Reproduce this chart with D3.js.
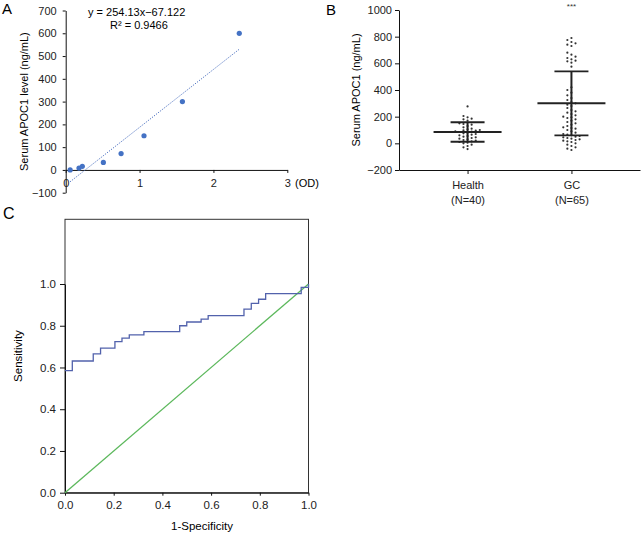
<!DOCTYPE html>
<html>
<head>
<meta charset="utf-8">
<script src="https://cdn.jsdelivr.net/npm/d3@7"></script>
<style>
  body { margin: 0; background: #fff; }
  svg { font-family: "Liberation Sans", Arial, Helvetica, sans-serif; }
  .axis path, .axis line { stroke: #111; }
  .axis text { fill: #222; }
</style>
</head>
<body>
<script>
// ---- panel A: standard curve ----
var odValues = [0.06, 0.18, 0.225, 0.51, 0.75, 1.06, 1.58, 2.35];
var concValues = [0, 8, 16, 33, 72, 150, 300, 600];
var fitSlope = 254.13, fitIntercept = -67.122;
var aTicksY = [-100, 0, 100, 200, 300, 400, 500, 600, 700];
var aTicksX = [0, 1, 2, 3];

// ---- panel B: scatter with mean +/- SD ----
var groups = ["Health", "GC"];
var groupN = ["(N=40)", "(N=65)"];
var groupMean = [85, 300];
var groupSD = [73, 240];
var healthVals = [277, 205, 195, 185, 180, 170, 150, 145, 140, 130,
                  120, 110, 105, 100, 98, 95, 90, 88, 85, 80,
                  75, 70, 65, 60, 55, 50, 45, 40, 35, 30,
                  25, 20, 15, 10, 5, 0, -10, -20, -30, -43];
var gcVals = [790, 775, 760, 750, 740, 730,
              680, 665, 650, 640, 630, 620, 615, 605, 575,
              420, 400, 380, 360, 340, 325, 310, 300, 290, 280,
              265, 250, 240, 230, 220, 210, 200, 195, 190, 180,
              170, 160, 150, 140, 130, 120, 115, 110, 100, 90,
              80, 70, 65, 60, 55, 50, 45, 40, 35, 30,
              25, 20, 15, 10, 0, -10, -20, -30, -40, -50];
var bTicksY = [-200, 0, 200, 400, 600, 800, 1000];

// ---- panel C: ROC curve ----
var rocFpr = [0, 0.030, 0.116, 0.146, 0.205, 0.234, 0.264, 0.324, 0.471, 0.500,
              0.559, 0.588, 0.735, 0.765, 0.795, 0.824, 0.970, 1.0];
var rocTpr = [0.585, 0.631, 0.665, 0.693, 0.724, 0.741, 0.756, 0.772, 0.800, 0.818,
              0.832, 0.848, 0.880, 0.907, 0.927, 0.954, 0.984, 1.0];
var cTicks = [0, 0.2, 0.4, 0.6, 0.8, 1.0];

var W = 642, H = 534;
var svg = d3.select("body").append("svg")
    .attr("width", W)
    .attr("height", H);

/* PANEL A */
var xA = d3.scaleLinear().domain([0, 3]).range([65.7, 287.3]);
var yA = d3.scaleLinear().domain([-100, 700]).range([192.7, 10.5]);
var gA = svg.append("g").style("font-size", "11px");

gA.append("g")
    .attr("class", "axis")
    .attr("transform", "translate(" + xA(0) + ",0)")
    .call(d3.axisLeft(yA).tickValues(aTicksY).tickFormat(d3.format("d")).tickSize(3).tickPadding(6).tickSizeOuter(0));

gA.append("g")
    .attr("class", "axis")
    .attr("transform", "translate(0," + yA(0) + ")")
    .call(d3.axisBottom(xA).tickValues(aTicksX).tickFormat(d3.format("d")).tickSize(3).tickPadding(6).tickSizeOuter(0));

gA.selectAll(".axis").attr("font-family", null).attr("font-size", null);

// trendline (dotted)
var fitX = d3.extent(odValues);
gA.append("line")
    .attr("x1", xA(fitX[0]))
    .attr("y1", yA(fitSlope * fitX[0] + fitIntercept))
    .attr("x2", xA(fitX[1]))
    .attr("y2", yA(fitSlope * fitX[1] + fitIntercept))
    .attr("stroke", "#4a6fc0")
    .attr("stroke-width", 1)
    .attr("stroke-dasharray", "1.2,1.4");

gA.selectAll("circle.pt")
    .data(odValues)
    .enter().append("circle")
    .attr("class", "pt")
    .attr("cx", function(d) { return xA(d); })
    .attr("cy", function(d, i) { return yA(concValues[i]); })
    .attr("r", 2.6)
    .attr("fill", "#4472c4");

gA.append("text").attr("x", 88).attr("y", 15.5)
    .text("y = 254.13x\u221267.122");
gA.append("text").attr("x", 110).attr("y", 29)
    .text("R\u00b2 = 0.9466");
gA.append("text").attr("x", 295).attr("y", 187)
    .text("(OD)");
gA.append("text")
    .attr("transform", "translate(28," + yA(300) + ") rotate(-90)")
    .attr("text-anchor", "middle")
    .text("Serum APOC1 level (ng/mL)");
gA.append("text").attr("x", 2).attr("y", 14).style("font-size", "15px").text("A");

/* PANEL B */
var xB = d3.scalePoint().domain(groups).range([399, 640]).padding(0.66);
var yB = d3.scaleLinear().domain([-200, 1000]).range([170, 10]);
var gB = svg.append("g").style("font-size", "11px");

gB.append("g")
    .attr("class", "axis")
    .attr("transform", "translate(399,0)")
    .call(d3.axisLeft(yB).tickValues(bTicksY).tickFormat(d3.format("d")).tickSize(4).tickPadding(3).tickSizeOuter(0));

var xAxisB = gB.append("g")
    .attr("class", "axis")
    .attr("transform", "translate(0," + yB(-200) + ")")
    .call(d3.axisBottom(xB).tickSize(4).tickPadding(7).tickSizeOuter(0));
xAxisB.selectAll(".tick text")
    .each(function(d, i) {
        var t = d3.select(this);
        t.text(null);
        t.append("tspan").attr("x", 0).attr("dy", "0.71em").text(d);
        t.append("tspan").attr("x", 0).attr("dy", "1.35em").text(groupN[i]);
    });
gB.selectAll(".axis").attr("font-family", null).attr("font-size", null);

// simple beeswarm so dots don't pile up
function swarm(vals, cx, r) {
    var placed = [];
    var sorted = vals.slice().sort(function(a, b) { return a - b; });
    sorted.forEach(function(v) {
        var py = yB(v);
        for (var k = 0; k < 30; k++) {
            var off = (k % 2 === 0 ? 1 : -1) * Math.ceil(k / 2) * r * 1.7;
            var px = cx + off;
            var hit = placed.some(function(p) {
                return Math.abs(p[0] - px) < r * 2.4 && Math.abs(p[1] - py) < r * 2.4;
            });
            if (!hit) { placed.push([px, py]); break; }
        }
    });
    return placed;
}

var allVals = [healthVals, gcVals];
groups.forEach(function(g, i) {
    var cx = xB(g);
    var pts = swarm(allVals[i], cx, 1.2);
    gB.selectAll("circle.g" + i)
        .data(pts)
        .enter().append("circle")
        .attr("cx", function(d) { return d[0]; })
        .attr("cy", function(d) { return d[1]; })
        .attr("r", 1.1)
        .attr("fill", "#333");

    var lo = groupMean[i] - groupSD[i], hi = groupMean[i] + groupSD[i];
    gB.append("line")
        .attr("x1", cx).attr("x2", cx)
        .attr("y1", yB(lo)).attr("y2", yB(hi))
        .attr("stroke", "#222").attr("stroke-width", 2);
    [lo, hi].forEach(function(v) {
        gB.append("line")
            .attr("x1", cx - 17).attr("x2", cx + 17)
            .attr("y1", yB(v)).attr("y2", yB(v))
            .attr("stroke", "#222").attr("stroke-width", 1.8);
    });
    gB.append("line")
        .attr("x1", cx - 34).attr("x2", cx + 34)
        .attr("y1", yB(groupMean[i])).attr("y2", yB(groupMean[i]))
        .attr("stroke", "#222").attr("stroke-width", 2);
});

gB.append("text")
    .attr("x", xB("GC")).attr("y", 9)
    .attr("text-anchor", "middle")
    .style("font-size", "8px")
    .attr("fill", "#333")
    .text("***");
gB.append("text")
    .attr("transform", "translate(360," + yB(400) + ") rotate(-90)")
    .attr("text-anchor", "middle")
    .text("Serum APOC1 (ng/mL)");
gB.append("text").attr("x", 326).attr("y", 15).style("font-size", "15px").text("B");

/* PANEL C */
var xC = d3.scaleLinear().domain([0, 1]).range([65, 308.5]);
var yC = d3.scaleLinear().domain([0, 1]).range([492.7, 284]);
var gC = svg.append("g").style("font-size", "11.5px");

gC.append("rect")
    .attr("x", xC(0)).attr("y", yC(1.31))
    .attr("width", xC(1) - xC(0))
    .attr("height", yC(0) - yC(1.31))
    .attr("fill", "none")
    .attr("stroke", "#333")
    .attr("stroke-width", 1);

gC.append("g")
    .attr("class", "axis")
    .attr("transform", "translate(0," + yC(0) + ")")
    .call(d3.axisBottom(xC).tickValues(cTicks).tickFormat(d3.format(".1f")).tickSize(3).tickPadding(5).tickSizeOuter(0));
gC.append("g")
    .attr("class", "axis")
    .attr("transform", "translate(" + xC(0) + ",0)")
    .call(d3.axisLeft(yC).tickValues(cTicks).tickFormat(d3.format(".1f")).tickSize(5).tickPadding(4).tickSizeOuter(0));
gC.selectAll(".axis").attr("font-family", null).attr("font-size", null);

// reference diagonal
gC.append("line")
    .attr("x1", xC(0)).attr("y1", yC(0))
    .attr("x2", xC(1)).attr("y2", yC(1))
    .attr("stroke", "#5cb85c")
    .attr("stroke-width", 1.3);

var rocLine = d3.line()
    .x(function(d) { return xC(d[0]); })
    .y(function(d) { return yC(d[1]); })
    .curve(d3.curveStepAfter);
gC.append("path")
    .datum(d3.zip(rocFpr, rocTpr))
    .attr("d", rocLine)
    .attr("fill", "none")
    .attr("stroke", "#5262ac")
    .attr("stroke-width", 1.3);

gC.append("text")
    .attr("x", 202).attr("y", 530)
    .attr("text-anchor", "middle")
    .text("1-Specificity");
gC.append("text")
    .attr("transform", "translate(22," + ((yC(0) + yC(1.31)) / 2) + ") rotate(-90)")
    .attr("text-anchor", "middle")
    .text("Sensitivity");
gC.append("text").attr("x", 3).attr("y", 219).style("font-size", "16px").text("C");
</script>
</body>
</html>
